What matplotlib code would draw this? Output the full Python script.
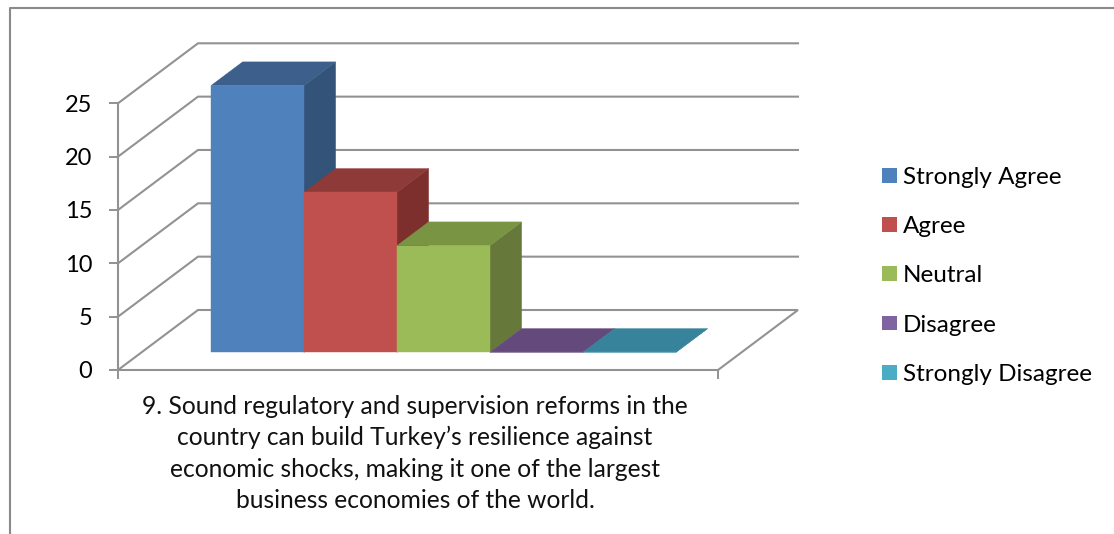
import matplotlib
matplotlib.use("Agg")
import matplotlib.pyplot as plt
from matplotlib.lines import Line2D
from matplotlib.patches import Patch, Polygon

plt.rcParams["font.family"] = ["Lato", "DejaVu Sans"]

# data
category = ("9. Sound regulatory and supervision reforms in the\n"
            "country can build Turkey\u2019s resilience against\n"
            "economic shocks, making it one of the largest\n"
            "business economies of the world.")
series = ["Strongly Agree", "Agree", "Neutral", "Disagree", "Strongly Disagree"]
values = [25, 15, 10, 0, 0]
y_ticks = [0, 5, 10, 15, 20, 25]

# colours per series: front, top, side
front = ["#4F81BD", "#C0504D", "#9BBB59", "#8064A2", "#4BACC6"]
top = ["#3D5F8B", "#8E3A38", "#799443", "#644A7C", "#37839B"]
side = ["#335379", "#7D2F2D", "#66793A", "#533D69", "#2F7085"]
grid_col = "#929292"
font_size = 17.7

# oblique depth of the floor, in axis units
depth_x = 80 / 600
depth_y = 60 / 266.7 * 25
bar_w = 93 / 600
bar_start = 69.4 / 600
z_front, z_back = 0.295, 0.69


def proj(x, y, z):
    return (x + z * depth_x, y + z * depth_y)


W, H = 1114, 534
fig = plt.figure(figsize=(W / 100, H / 100), dpi=100)
ax = fig.add_axes([118 / W, (H - 370) / H, 600 / W, 266.7 / H])
ax.set_xlim(0, 1)
ax.set_ylim(0, 25)
ax.patch.set_alpha(0)

for s in ["top", "right"]:
    ax.spines[s].set_visible(False)
for s in ["left", "bottom"]:
    ax.spines[s].set_color(grid_col)
    ax.spines[s].set_linewidth(1.5)

ax.set_yticks(y_ticks)
ax.set_xticks([0, 1])
ax.set_xticklabels(["", ""])
ax.tick_params(axis="both", length=6.5, width=1.4, color=grid_col, labelsize=17)
ax.tick_params(axis="y", pad=12)

# side wall and back wall lines
for v in y_ticks:
    pts = [proj(0, v, 0), proj(0, v, 1), proj(1, v, 1)]
    if v == 0:
        pts.append(proj(1, v, 0))
    ax.plot([p[0] for p in pts], [p[1] for p in pts], color=grid_col, lw=1.5,
            clip_on=False, zorder=1, solid_joinstyle="miter")

# bars, left to right
for i, v in enumerate(values):
    x0 = bar_start + i * bar_w
    x1 = x0 + bar_w
    faces = [
        ([proj(x1, 0, z_front), proj(x1, 0, z_back), proj(x1, v, z_back), proj(x1, v, z_front)], side[i]),
        ([proj(x0, v, z_front), proj(x0, v, z_back), proj(x1, v, z_back), proj(x1, v, z_front)], top[i]),
        ([proj(x0, 0, z_front), proj(x1, 0, z_front), proj(x1, v, z_front), proj(x0, v, z_front)], front[i]),
    ]
    for pts, col in faces:
        ax.add_patch(Polygon(pts, closed=True, facecolor=col, edgecolor=col, lw=0.3,
                             clip_on=False, zorder=3 + i))

ax.text(0.495, -0.092, category, transform=ax.transAxes, ha="center", va="top",
        fontsize=font_size, linespacing=1.44, color="#111111")

handles = [Patch(facecolor=c, edgecolor="none") for c in front]
fig.legend(handles, series, loc="upper left", bbox_to_anchor=(882 / W, 1 - 167 / H),
           frameon=False, fontsize=17.5, handlelength=0.62, handleheight=0.57,
           handletextpad=0.25, labelspacing=1.16, borderpad=0, borderaxespad=0)

# outer frame, only top and left show
fig.add_artist(Line2D([9.5 / W, 9.5 / W, 1], [0, 1 - 7.5 / H, 1 - 7.5 / H], color="#8A8A8A", lw=1.5))

fig.savefig("out.png", dpi=100)
